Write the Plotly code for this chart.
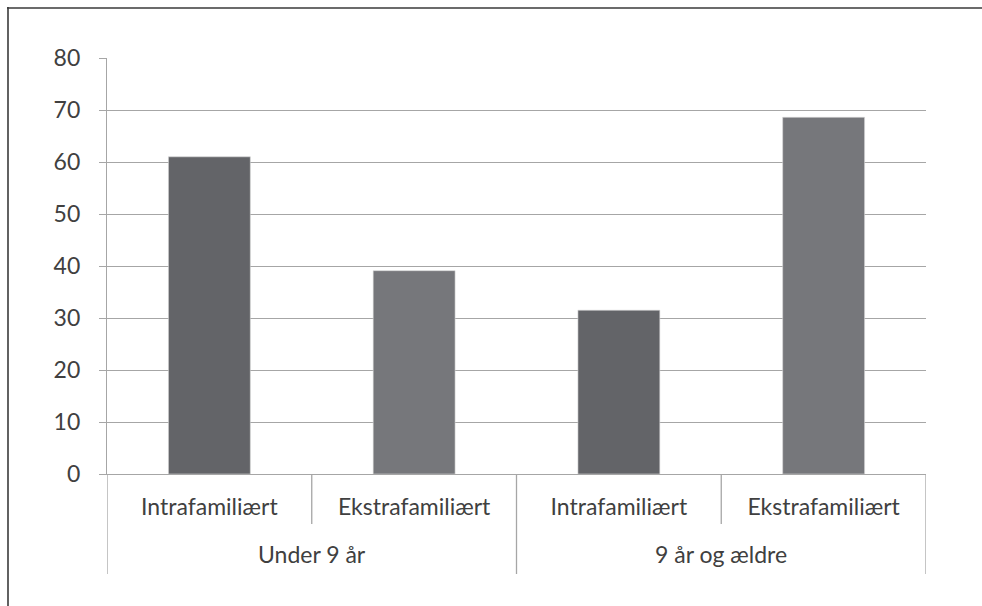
import plotly.graph_objects as go

# Data
groups = ["Under 9 år", "9 år og ældre"]
abuse_types = ["Intrafamiliært", "Ekstrafamiliært", "Intrafamiliært", "Ekstrafamiliært"]
values = [61.0, 39.1, 31.5, 68.6]
y_ticks = [0, 10, 20, 30, 40, 50, 60, 70, 80]

positions = list(range(len(values)))
bar_colors = ["#636468" if t == "Intrafamiliært" else "#76777b" for t in abuse_types]

GRID = "#a6a6a6"
TEXT = "#404040"
FRAME = "#3a3a3a"
FONT = "Lato"
FSIZE = 23

fig = go.Figure()
fig.add_trace(go.Bar(
    x=positions,
    y=values,
    width=0.4,
    marker=dict(color=bar_colors, line=dict(color="#d9d9d9", width=0.6)),
    hoverinfo="skip",
    showlegend=False,
))

# outer group labels centred under each pair of bars
for i, g in enumerate(groups):
    fig.add_annotation(
        x=2 * i + 0.5, y=0, xref="x", yref="paper",
        yanchor="middle", yshift=-80, showarrow=False,
        text=g, font=dict(family=FONT, size=FSIZE, color=TEXT),
    )

# category dividers below the axis: short between inner labels, long between groups
shapes = []
for xv in [-0.5, 1.5, 3.5]:
    shapes.append(dict(type="line", xref="x", yref="paper", ysizemode="pixel",
                       yanchor=0, x0=xv, x1=xv, y0=0, y1=-100,
                       line=dict(color=GRID, width=1.3)))
for xv in [0.5, 2.5]:
    shapes.append(dict(type="line", xref="x", yref="paper", ysizemode="pixel",
                       yanchor=0, x0=xv, x1=xv, y0=0, y1=-50,
                       line=dict(color=GRID, width=1.3)))
# outer frame (top and left edges)
shapes.append(dict(type="line", xref="paper", yref="paper", xsizemode="pixel",
                   ysizemode="pixel", xanchor=0, yanchor=1,
                   x0=-100, x1=880, y0=50, y1=50,
                   line=dict(color=FRAME, width=1.6)))
shapes.append(dict(type="line", xref="paper", yref="paper", xsizemode="pixel",
                   ysizemode="pixel", xanchor=0, yanchor=1,
                   x0=-99, x1=-99, y0=51, y1=-600,
                   line=dict(color=FRAME, width=1.6)))

fig.update_layout(
    width=982, height=606,
    margin=dict(l=107, r=56, t=58, b=132, pad=0),
    paper_bgcolor="white", plot_bgcolor="white",
    font=dict(family=FONT, size=FSIZE, color=TEXT),
    shapes=shapes,
    bargap=0.6,
    xaxis=dict(
        range=[-0.5, 3.5],
        tickvals=positions, ticktext=abuse_types,
        ticks="", showgrid=False, zeroline=False,
        showline=True, linecolor=GRID, linewidth=1.3,
        ticklabelstandoff=12,
        tickfont=dict(family=FONT, size=FSIZE, color=TEXT),
        fixedrange=True,
    ),
    yaxis=dict(
        range=[0, 80],
        tickvals=y_ticks,
        ticks="outside", ticklen=7, tickcolor=GRID, tickwidth=1.3,
        showgrid=True, gridcolor=GRID, gridwidth=1.3,
        zeroline=False,
        showline=True, linecolor=GRID, linewidth=1.3,
        ticklabelstandoff=14,
        tickfont=dict(family=FONT, size=FSIZE, color=TEXT),
        fixedrange=True,
    ),
)

fig.write_html("out.html")
